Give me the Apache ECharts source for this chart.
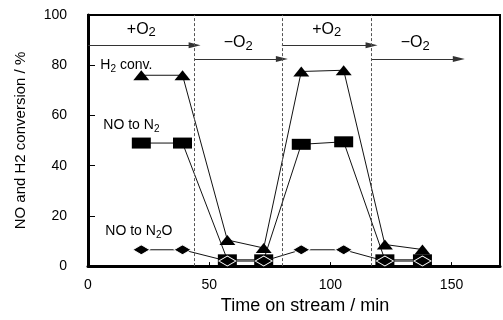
<!DOCTYPE html>
<html>
<head>
<meta charset="utf-8">
<script src="https://cdn.jsdelivr.net/npm/echarts@6/dist/echarts.min.js"></script>
<style>
  html, body { margin: 0; padding: 0; background: #fff; }
  #chart { width: 503px; height: 320px; }
</style>
</head>
<body>
<div id="chart"></div>
<script>
// Sampling times (min) and conversions (%) for the three measured quantities
const timeOnStream = [22, 39, 57.5, 72.5, 88, 105.5, 122.5, 138];
const h2Conversion = [76, 76, 10.4, 7.2, 77.5, 78, 8.6, 6.6];
const noToN2 = [49, 49, 2.5, 2.5, 48.5, 49.5, 2.5, 2.5];
const noToN2O = [6.5, 6.5, 2, 2, 6.5, 6.5, 2, 2];
const seriesNames = ['H2 conv.', 'NO to N2', 'NO to N2O'];

// Axis ticks
const xTickValues = [0, 50, 100, 150];
const yTickValues = [0, 20, 40, 60, 80, 100];

// O2 feed switching: phase labels, the arrow span of each phase and its height (%)
const feedPhases = ['+O2', '−O2', '+O2', '−O2'];
const phaseStart = [0, 44, 80, 117];
const phaseEnd = [44, 80, 117, 153];
const arrowLevel = [88, 82.5, 88, 82.5];
const switchTimes = [44, 80, 117];

const FONT = 'Liberation Sans';

// Turn "N2O" into rich-text tokens with a lowered, smaller digit
function chem(text, big) {
  const m = big ? 'pm' : 'm';
  const s = big ? 'ps' : 's';
  return text.split(/(\d)/).filter(t => t.length).map(t =>
    /^\d$/.test(t) ? '{' + s + '|' + t + '}' : '{' + m + '|' + t + '}'
  ).join('');
}
const richText = {
  m: { fontFamily: FONT, fontSize: 14, lineHeight: 16, verticalAlign: 'top', color: '#000' },
  s: { fontFamily: FONT, fontSize: 10, lineHeight: 11, verticalAlign: 'top', padding: [6, 0, 0, 0], color: '#000' },
  pm: { fontFamily: FONT, fontSize: 16, lineHeight: 18, verticalAlign: 'top', color: '#000' },
  ps: { fontFamily: FONT, fontSize: 13, lineHeight: 14, verticalAlign: 'top', padding: [5, 0, 0, 0], color: '#000' }
};

function pairs(ys) { return timeOnStream.map((t, i) => [t, ys[i]]); }

// Name tag placed up-left of a series' first point
function nameTag(name, ys, offset) {
  return {
    symbol: 'circle',
    symbolSize: 1,
    silent: true,
    animation: false,
    itemStyle: { color: 'rgba(0,0,0,0)' },
    label: {
      show: true,
      position: 'inside',
      offset: offset,
      align: 'left',
      verticalAlign: 'middle',
      fontSize: 14,
      color: '#000',
      formatter: () => chem(name, false),
      rich: richText
    },
    data: [{ coord: [timeOnStream[0], ys[0]] }]
  };
}

const lineStyle = { color: '#111', width: 1 };

const arrowLines = feedPhases.map((p, i) => [
  {
    coord: [phaseStart[i], arrowLevel[i]],
    label: {
      show: true,
      position: 'insideMiddleTop',
      distance: 6,
      fontSize: 16,
      color: '#000',
      formatter: () => chem(p, true),
      rich: richText
    }
  },
  { coord: [phaseEnd[i], arrowLevel[i]] }
]);

const option = {
  animation: false,
  backgroundColor: '#fff',
  textStyle: { fontFamily: FONT },
  grid: {
    left: 88, right: 3, top: 15, bottom: 49,
    show: true, borderColor: '#000', borderWidth: 2, backgroundColor: 'transparent'
  },
  xAxis: {
    type: 'value',
    min: xTickValues[0],
    max: 170,
    interval: xTickValues[1] - xTickValues[0],
    name: 'Time on stream / min',
    nameLocation: 'middle',
    nameGap: 26,
    nameTextStyle: { fontFamily: FONT, fontSize: 18, color: '#000', padding: [0, 0, 0, 22] },
    axisLine: { lineStyle: { color: '#000', width: 3 } },
    axisTick: { inside: true, length: 4, lineStyle: { color: '#000', width: 1 } },
    axisLabel: {
      fontFamily: FONT, fontSize: 14, color: '#000', margin: 12,
      showMaxLabel: false,
      formatter: v => (xTickValues.includes(v) ? String(v) : '')
    },
    splitLine: { show: false }
  },
  yAxis: {
    type: 'value',
    min: yTickValues[0],
    max: yTickValues[yTickValues.length - 1],
    interval: yTickValues[1] - yTickValues[0],
    name: 'NO and H2 conversion / %',
    nameLocation: 'middle',
    nameGap: 60,
    nameTextStyle: { fontFamily: FONT, fontSize: 15, color: '#000' },
    axisLine: { lineStyle: { color: '#000', width: 3 } },
    axisTick: { inside: true, length: 7, lineStyle: { color: '#000', width: 1 } },
    axisLabel: { fontFamily: FONT, fontSize: 14, color: '#000', margin: 21 },
    splitLine: { show: false }
  },
  series: [
    {
      name: seriesNames[0],
      type: 'line',
      data: pairs(h2Conversion),
      symbol: 'triangle',
      symbolSize: [16, 10],
      itemStyle: { color: '#000' },
      lineStyle: lineStyle,
      z: 3,
      markLine: {
        silent: true,
        animation: false,
        symbol: ['none', 'triangle'],
        symbolSize: [6, 12],
        lineStyle: { color: '#333', width: 1, type: 'solid' },
        label: { show: false },
        data: arrowLines
      },
      markPoint: nameTag(seriesNames[0], h2Conversion, [-41, -9])
    },
    {
      name: seriesNames[1],
      type: 'line',
      data: pairs(noToN2),
      symbol: 'rect',
      symbolSize: [19, 11],
      itemStyle: { color: '#000' },
      lineStyle: lineStyle,
      z: 3,
      markLine: {
        silent: true,
        animation: false,
        symbol: ['none', 'none'],
        lineStyle: { color: '#555', width: 1, type: [3, 2] },
        label: { show: false },
        data: switchTimes.map(t => ({ xAxis: t }))
      },
      markPoint: nameTag(seriesNames[1], noToN2, [-38, -17])
    },
    {
      name: seriesNames[2],
      type: 'line',
      data: pairs(noToN2O),
      symbol: 'diamond',
      symbolSize: [17, 10],
      itemStyle: { color: '#000', borderColor: '#fff', borderWidth: 1 },
      lineStyle: lineStyle,
      z: 4,
      markPoint: nameTag(seriesNames[2], noToN2O, [-36, -18])
    }
  ]
};

const chart = echarts.init(document.getElementById('chart'), null, { renderer: 'canvas' });
chart.setOption(option);
</script>
</body>
</html>
